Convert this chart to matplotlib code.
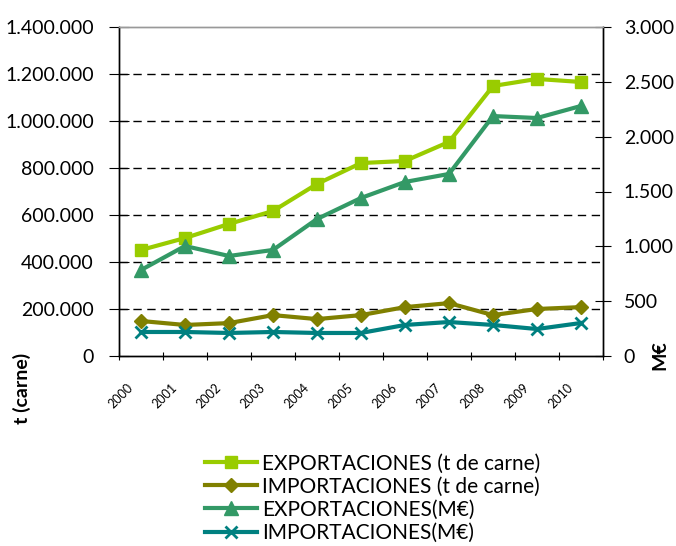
import matplotlib
matplotlib.use("Agg")
import matplotlib.pyplot as plt
from matplotlib.ticker import FuncFormatter, MultipleLocator

years = ["2000", "2001", "2002", "2003", "2004", "2005", "2006", "2007", "2008", "2009", "2010"]
export_t = [451000, 502000, 562000, 617000, 732000, 821000, 830000, 911000, 1149000, 1179000, 1166000]
import_t = [149000, 132000, 140000, 174000, 157000, 174000, 208000, 225000, 174000, 200000, 208000]
export_me = [784, 1003, 912, 967, 1249, 1441, 1587, 1660, 2188, 2170, 2280]
import_me = [219, 219, 210, 219, 210, 210, 283, 310, 283, 246, 301]

plt.rcParams["font.family"] = ["Lato", "DejaVu Sans"]


def dots(v, pos):
    return f"{int(v):,}".replace(",", ".")


fig = plt.figure(figsize=(6.76, 5.46), dpi=100)
ax = fig.add_axes([119 / 676, 1 - 356 / 546, 484 / 676, 329 / 546])
ax2 = ax.twinx()

x = list(range(len(years)))
l1, = ax.plot(x, export_t, color="#99CC00", lw=3, marker="s", ms=9,
              label="EXPORTACIONES (t de carne)")
l2, = ax.plot(x, import_t, color="#808000", lw=3, marker="D", ms=7,
              label="IMPORTACIONES (t de carne)")
l3, = ax2.plot(x, export_me, color="#339966", lw=3, marker="^", ms=10,
               label="EXPORTACIONES(M€)")
l4, = ax2.plot(x, import_me, color="#008080", lw=3, marker="x", ms=9, mew=2,
               label="IMPORTACIONES(M€)")

ax.set_xlim(-0.5, len(years) - 0.5)
ax.set_ylim(0, 1400000)
ax.yaxis.set_major_locator(MultipleLocator(200000))
ax.yaxis.set_major_formatter(FuncFormatter(dots))
ax2.set_ylim(0, 3000)
ax2.yaxis.set_major_locator(MultipleLocator(500))
ax2.yaxis.set_major_formatter(FuncFormatter(dots))

for v in range(200000, 1400000, 200000):
    ax.axhline(v, color="black", lw=1, ls=(0, (6, 4)), zorder=0)

# category boundaries get the tick marks, labels sit slightly left of centre
ax.set_xticks([i - 0.5 for i in range(len(years) + 1)], minor=False)
ax.set_xticklabels([])
ax.set_xticks([i - 0.33 for i in x], minor=True)
ax.set_xticklabels(years, minor=True, rotation=45, fontsize=9, ha="right",
                   rotation_mode="anchor")
ax.tick_params(axis="x", which="major", direction="inout", length=6)
ax.tick_params(axis="x", which="minor", length=0, pad=18)
ax.tick_params(axis="y", direction="inout", length=14, labelsize=14, pad=11)
ax2.tick_params(axis="y", direction="inout", length=12, labelsize=14, pad=9)

for a in (ax, ax2):
    for s in a.spines.values():
        s.set_color("black")
        s.set_linewidth(1)
ax.spines["top"].set_color("#999999")
ax2.spines["top"].set_color("#999999")

fig.text(22 / 676, 1 - 388 / 546, "t (carne)", rotation=90, fontsize=14,
         fontweight="bold", ha="center", va="center")
fig.text(660 / 676, 1 - 355 / 546, "M€", rotation=90, fontsize=14,
         fontweight="bold", ha="center", va="center")

fig.legend(handles=[l1, l2, l3, l4], loc="upper left",
           bbox_to_anchor=(195 / 676, 1 - 443 / 546), frameon=False,
           fontsize=15, handlelength=2.5, handletextpad=0.2,
           labelspacing=0.15, borderpad=0)

fig.savefig("out.png", dpi=100)
